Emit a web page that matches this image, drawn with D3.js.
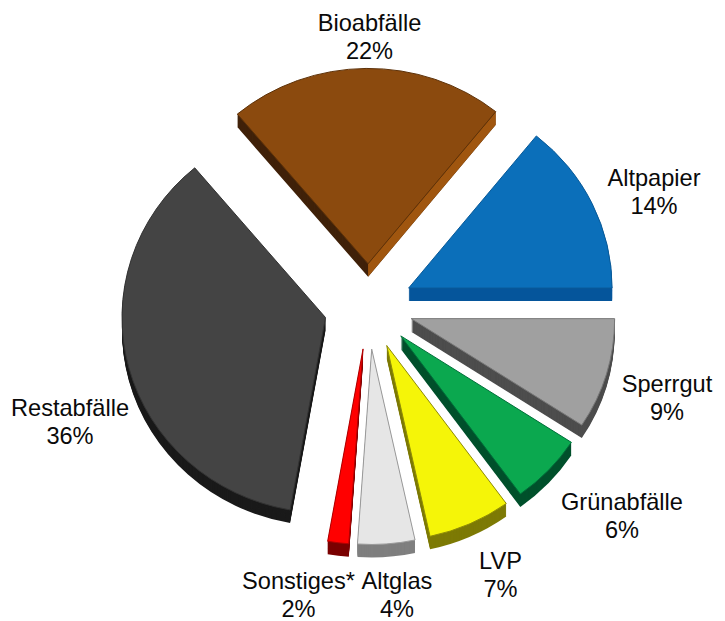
<!DOCTYPE html>
<html>
<head>
<meta charset="utf-8">
<script src="https://cdn.jsdelivr.net/npm/d3@7"></script>
<style>
html,body{margin:0;padding:0;background:#fff}
svg{display:block}
text{font-family:"Liberation Sans",Arial,sans-serif;fill:#0a0a0a}
</style>
</head>
<body>
<svg id="chart" width="725" height="621"></svg>
<script>
const categories = ["Altpapier","Bioabfälle","Restabfälle","Sonstiges*","Altglas","LVP","Grünabfälle","Sperrgut"];
const percentLabels = ["14%","22%","36%","2%","4%","7%","6%","9%"];
// Slice sizes as drawn in the picture (perspective makes them differ slightly from the printed labels)
const values = [14.2,21.9,36.1,1.67,4.53,6.58,5.83,9.17];
const topColors  = ["#0b6fba","#8b4a0e","#444444","#ff0000","#e6e6e6","#f5f508","#0ba84f","#a0a0a0"];
const sideColors = ["#05559b","#40220a","#1a1a1a","#7a0000","#7f7f7f","#7d7a05","#00512c","#4d4d4d"];
const edgeColors = ["#0a5a98","#5e3209","#333333","#b00000","#9a9a9a","#8f8c06","#00703a","#777777"];
const startSideColors = [null,"#a0560f",null,null,null,null,null,null];
const labelX = [654,369.5,70,298.5,397,500.5,622,667];
const labelY = [186,31,416,588.5,588.5,569,510,392];

const cx = 368.5, cy = 306.5, rx = 203.5, ky = 0.96, explode = 44.5, depth = 13;
const lineGap = 28.2;

const svg = d3.select("#chart");
const pie = d3.pie().sort(null).startAngle(Math.PI/2).endAngle(Math.PI/2 - 2*Math.PI);
const arc = d3.arc().innerRadius(0).outerRadius(rx);
const arcs = pie(values);

const tip = d => {
  const m = (d.startAngle + d.endAngle)/2;
  return [cx + explode*Math.sin(m), cy - explode*Math.cos(m)*ky];
};
const corner = a => [rx*Math.sin(a), -rx*Math.cos(a)*ky];

const order = [1,0,7,2,3,4,5,6];
order.forEach(i => {
  const d = arcs[i];
  const [tx,ty] = tip(d);
  const g = svg.append("g").attr("class","slice");
  g.selectAll("path.side").data(d3.range(1,depth+1).reverse()).join("path")
    .attr("class","side")
    .attr("d",arc(d))
    .attr("transform",k => `translate(${tx},${ty+k}) scale(1,${ky})`)
    .attr("fill",sideColors[i]);
  if (startSideColors[i]) {
    const [qx,qy] = corner(d.startAngle);
    g.append("path")
      .attr("d",d3.line()([[tx,ty],[tx+qx,ty+qy],[tx+qx,ty+qy+depth],[tx,ty+depth]])+"Z")
      .attr("fill",startSideColors[i]);
  }
  g.append("path")
    .attr("d",arc(d))
    .attr("transform",`translate(${tx},${ty}) scale(1,${ky})`)
    .attr("fill",topColors[i])
    .attr("stroke",edgeColors[i])
    .attr("stroke-width",1)
    .attr("vector-effect","non-scaling-stroke")
    .attr("stroke-linejoin","round");
});

const lab = svg.append("g").attr("font-size",23.6).attr("text-anchor","middle");
categories.forEach((c,i) => {
  lab.append("text").attr("x",labelX[i]).attr("y",labelY[i]).text(c);
  lab.append("text").attr("x",labelX[i]).attr("y",labelY[i]+lineGap).text(percentLabels[i]);
});
</script>
</body>
</html>
